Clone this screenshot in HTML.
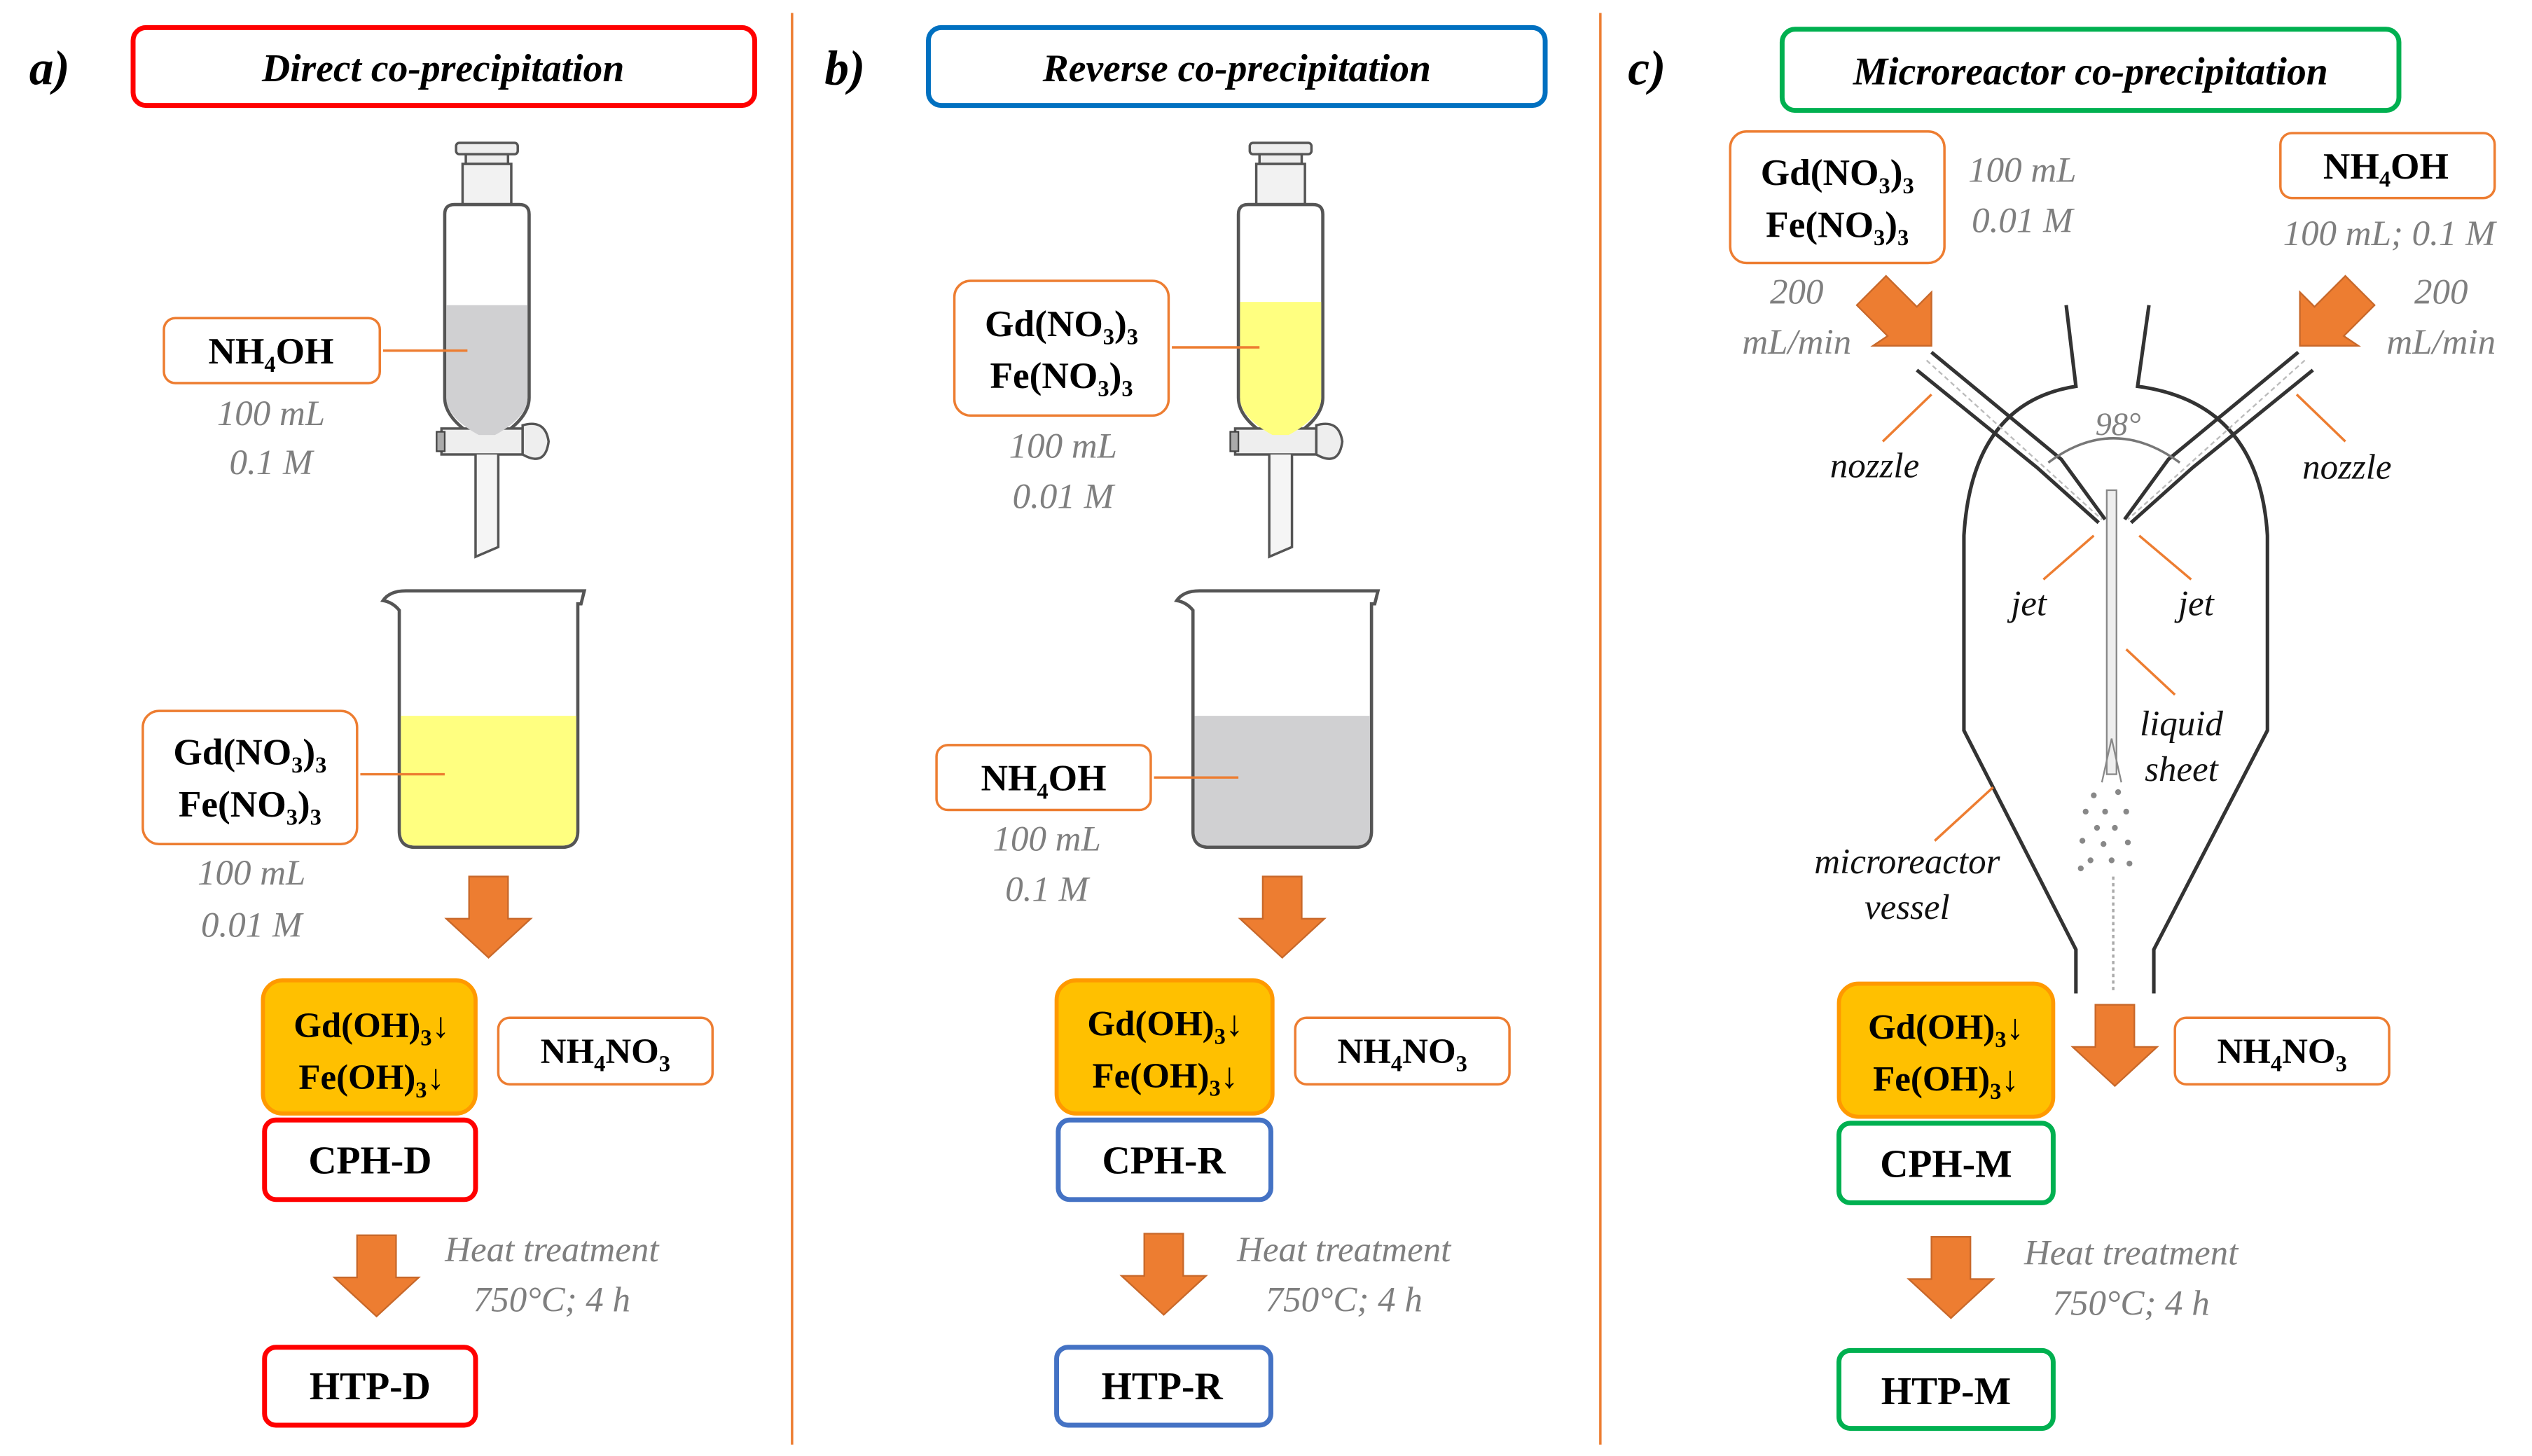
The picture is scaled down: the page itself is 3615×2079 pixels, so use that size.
<!DOCTYPE html>
<html><head><meta charset="utf-8"><style>
html,body{margin:0;padding:0;background:#fff;}
svg{display:block;}
svg text{font-family:"Liberation Serif","DejaVu Serif",serif;}
</style></head><body>
<svg width="3615" height="2079" viewBox="0 0 1560 897" preserveAspectRatio="none" xmlns="http://www.w3.org/2000/svg" font-family="Liberation Serif, DejaVu Serif, serif">
<style>
.b{font-family:"Liberation Serif","DejaVu Serif",serif;font-weight:bold;fill:#000;}
.t{font-family:"Liberation Serif","DejaVu Serif",serif;font-weight:bold;font-style:italic;fill:#000;}
.g{font-family:"Liberation Serif","DejaVu Serif",serif;font-style:italic;fill:#7f7f7f;}
.k{font-family:"Liberation Serif","DejaVu Serif",serif;font-style:italic;fill:#111;}
</style>
<defs>
<g id="funnel">
  <rect x="-19" y="88" width="38" height="7" rx="2" fill="#eee" stroke="#555" stroke-width="1.5"/>
  <rect x="-13" y="95" width="26" height="6" fill="#eee" stroke="#555" stroke-width="1.5"/>
  <rect x="-15" y="101" width="30" height="25" fill="#f2f2f2" stroke="#555" stroke-width="1.5"/>
  <path d="M-26 132 Q-26 126 -20 126 L20 126 Q26 126 26 132 L26 245 Q26 258 6 270 L6 276 L-6 276 L-6 270 Q-26 258 -26 245 Z" fill="#fff" stroke="#555" stroke-width="2"/>
  <rect x="-28" y="264" width="50" height="16" fill="#eee" stroke="#555" stroke-width="1.5"/>
  <rect x="-31" y="266" width="5" height="12" fill="#aaa" stroke="#444" stroke-width="1"/>
  <path d="M22 262 Q36 258 38 272 Q36 288 22 280 Z" fill="#eee" stroke="#555" stroke-width="1.5"/>
  <path d="M-7 280 L-7 343 L7 337 L7 280" fill="#f5f5f5" stroke="#555" stroke-width="1.5"/>
</g>
<g id="beaker">
  <path d="M-64 370 Q-60 364 -50 364 L60 364 L58 372 L56 372 L56 512 Q56 522 46 522 L-44 522 Q-54 522 -54 512 L-54 376 Q-58 371 -64 370 Z" fill="#fff" stroke="#555" stroke-width="2"/>
</g>
<g id="darrow"><path d="M-12 0 L12 0 L12 26 L26 26 L0 50 L-26 26 L-12 26 Z" fill="#ED7D31" stroke="#c8682a" stroke-width="1"/></g>
</defs>

<line x1="488" y1="8" x2="488" y2="890" stroke="#ED7D31" stroke-width="1.5"/>
<line x1="986" y1="8" x2="986" y2="890" stroke="#ED7D31" stroke-width="1.5"/>

<!-- Panel a -->
<text x="18" y="52" class="t" font-size="30">a)</text>
<rect x="82" y="17" width="383" height="48" rx="8" fill="#fff" stroke="#FF0000" stroke-width="3"/>
<text x="273" y="50" class="t" font-size="24" text-anchor="middle">Direct co-precipitation</text>

<g transform="translate(300,0)">
  <use href="#funnel"/>
  <path d="M-25 188 L25 188 L25 245 Q25 257 5 268 L-5 268 Q-25 257 -25 245 Z" fill="#d0d0d2"/>
</g>
<rect x="101" y="196" width="133" height="40" rx="7" fill="#fff" stroke="#ED7D31" stroke-width="1.5"/>
<text x="167" y="224" class="b" font-size="23" text-anchor="middle">NH<tspan font-size="14" dy="5">4</tspan><tspan dy="-5">OH</tspan></text>
<line x1="236" y1="216" x2="288" y2="216" stroke="#ED7D31" stroke-width="1.5"/>
<text x="167" y="262" class="g" font-size="22" text-anchor="middle">100 mL</text>
<text x="167" y="292" class="g" font-size="22" text-anchor="middle">0.1 M</text>

<g transform="translate(300,0)"><use href="#beaker"/>
<path d="M-53 441 L55 441 L55 512 Q55 521 46 521 L-44 521 Q-53 521 -53 512 Z" fill="#FFFF80"/></g>
<rect x="88" y="438" width="132" height="82" rx="10" fill="#fff" stroke="#ED7D31" stroke-width="1.5"/>
<text x="154" y="471" class="b" font-size="23" text-anchor="middle">Gd(NO<tspan font-size="14" dy="5">3</tspan><tspan dy="-5">)</tspan><tspan font-size="14" dy="5">3</tspan></text>
<text x="154" y="503" class="b" font-size="23" text-anchor="middle">Fe(NO<tspan font-size="14" dy="5">3</tspan><tspan dy="-5">)</tspan><tspan font-size="14" dy="5">3</tspan></text>
<line x1="222" y1="477" x2="274" y2="477" stroke="#ED7D31" stroke-width="1.5"/>
<text x="155" y="545" class="g" font-size="22" text-anchor="middle">100 mL</text>
<text x="155" y="577" class="g" font-size="22" text-anchor="middle">0.01 M</text>

<use href="#darrow" x="301" y="540"/>
<rect x="162" y="604" width="131" height="82" rx="12" fill="#FFC000" stroke="#FF9900" stroke-width="2.5"/>
<text x="229" y="639" class="b" font-size="22" text-anchor="middle">Gd(OH)<tspan font-size="14" dy="5">3</tspan><tspan dy="-5">↓</tspan></text>
<text x="229" y="671" class="b" font-size="22" text-anchor="middle">Fe(OH)<tspan font-size="14" dy="5">3</tspan><tspan dy="-5">↓</tspan></text>
<rect x="307" y="627" width="132" height="41" rx="7" fill="#fff" stroke="#ED7D31" stroke-width="1.5"/>
<text x="373" y="655" class="b" font-size="22" text-anchor="middle">NH<tspan font-size="14" dy="5">4</tspan><tspan dy="-5">NO</tspan><tspan font-size="14" dy="5">3</tspan></text>
<rect x="163" y="690" width="130" height="49" rx="7" fill="#fff" stroke="#FF0000" stroke-width="3"/>
<text x="228" y="723" class="b" font-size="24" text-anchor="middle">CPH-D</text>
<use href="#darrow" x="232" y="761"/>
<text x="340" y="777" class="g" font-size="22" text-anchor="middle">Heat treatment</text>
<text x="340" y="808" class="g" font-size="22" text-anchor="middle">750°C; 4 h</text>
<rect x="163" y="830" width="130" height="48" rx="7" fill="#fff" stroke="#FF0000" stroke-width="3"/>
<text x="228" y="862" class="b" font-size="24" text-anchor="middle">HTP-D</text>

<!-- Panel b -->
<text x="508" y="52" class="t" font-size="30">b)</text>
<rect x="572" y="17" width="380" height="48" rx="8" fill="#fff" stroke="#0070C0" stroke-width="3"/>
<text x="762" y="50" class="t" font-size="24" text-anchor="middle">Reverse co-precipitation</text>

<g transform="translate(789,0)">
  <use href="#funnel"/>
  <path d="M-25 186 L25 186 L25 245 Q25 257 5 268 L-5 268 Q-25 257 -25 245 Z" fill="#FFFF80"/>
</g>
<rect x="588" y="173" width="132" height="83" rx="10" fill="#fff" stroke="#ED7D31" stroke-width="1.5"/>
<text x="654" y="207" class="b" font-size="23" text-anchor="middle">Gd(NO<tspan font-size="14" dy="5">3</tspan><tspan dy="-5">)</tspan><tspan font-size="14" dy="5">3</tspan></text>
<text x="654" y="239" class="b" font-size="23" text-anchor="middle">Fe(NO<tspan font-size="14" dy="5">3</tspan><tspan dy="-5">)</tspan><tspan font-size="14" dy="5">3</tspan></text>
<line x1="722" y1="214" x2="776" y2="214" stroke="#ED7D31" stroke-width="1.5"/>
<text x="655" y="282" class="g" font-size="22" text-anchor="middle">100 mL</text>
<text x="655" y="313" class="g" font-size="22" text-anchor="middle">0.01 M</text>

<g transform="translate(789,0)"><use href="#beaker"/>
<path d="M-53 441 L55 441 L55 512 Q55 521 46 521 L-44 521 Q-53 521 -53 512 Z" fill="#d0d0d2"/></g>
<rect x="577" y="459" width="132" height="40" rx="7" fill="#fff" stroke="#ED7D31" stroke-width="1.5"/>
<text x="643" y="487" class="b" font-size="23" text-anchor="middle">NH<tspan font-size="14" dy="5">4</tspan><tspan dy="-5">OH</tspan></text>
<line x1="711" y1="479" x2="763" y2="479" stroke="#ED7D31" stroke-width="1.5"/>
<text x="645" y="524" class="g" font-size="22" text-anchor="middle">100 mL</text>
<text x="645" y="555" class="g" font-size="22" text-anchor="middle">0.1 M</text>

<use href="#darrow" x="790" y="540"/>
<rect x="651" y="604" width="133" height="82" rx="12" fill="#FFC000" stroke="#FF9900" stroke-width="2.5"/>
<text x="718" y="638" class="b" font-size="22" text-anchor="middle">Gd(OH)<tspan font-size="14" dy="5">3</tspan><tspan dy="-5">↓</tspan></text>
<text x="718" y="670" class="b" font-size="22" text-anchor="middle">Fe(OH)<tspan font-size="14" dy="5">3</tspan><tspan dy="-5">↓</tspan></text>
<rect x="798" y="627" width="132" height="41" rx="7" fill="#fff" stroke="#ED7D31" stroke-width="1.5"/>
<text x="864" y="655" class="b" font-size="22" text-anchor="middle">NH<tspan font-size="14" dy="5">4</tspan><tspan dy="-5">NO</tspan><tspan font-size="14" dy="5">3</tspan></text>
<rect x="652" y="690" width="131" height="49" rx="7" fill="#fff" stroke="#4472C4" stroke-width="3"/>
<text x="717" y="723" class="b" font-size="24" text-anchor="middle">CPH-R</text>
<use href="#darrow" x="717" y="760"/>
<text x="828" y="777" class="g" font-size="22" text-anchor="middle">Heat treatment</text>
<text x="828" y="808" class="g" font-size="22" text-anchor="middle">750°C; 4 h</text>
<rect x="651" y="830" width="132" height="48" rx="7" fill="#fff" stroke="#4472C4" stroke-width="3"/>
<text x="716" y="862" class="b" font-size="24" text-anchor="middle">HTP-R</text>

<!-- Panel c -->
<text x="1003" y="52" class="t" font-size="30">c)</text>
<rect x="1098" y="18" width="380" height="50" rx="8" fill="#fff" stroke="#00B050" stroke-width="3"/>
<text x="1288" y="52" class="t" font-size="24" text-anchor="middle">Microreactor co-precipitation</text>

<rect x="1066" y="81" width="132" height="81" rx="10" fill="#fff" stroke="#ED7D31" stroke-width="1.5"/>
<text x="1132" y="114" class="b" font-size="23" text-anchor="middle">Gd(NO<tspan font-size="14" dy="5">3</tspan><tspan dy="-5">)</tspan><tspan font-size="14" dy="5">3</tspan></text>
<text x="1132" y="146" class="b" font-size="23" text-anchor="middle">Fe(NO<tspan font-size="14" dy="5">3</tspan><tspan dy="-5">)</tspan><tspan font-size="14" dy="5">3</tspan></text>
<text x="1246" y="112" class="g" font-size="22" text-anchor="middle">100 mL</text>
<text x="1246" y="143" class="g" font-size="22" text-anchor="middle">0.01 M</text>
<rect x="1405" y="82" width="132" height="40" rx="7" fill="#fff" stroke="#ED7D31" stroke-width="1.5"/>
<text x="1470" y="110" class="b" font-size="23" text-anchor="middle">NH<tspan font-size="14" dy="5">4</tspan><tspan dy="-5">OH</tspan></text>
<text x="1472" y="151" class="g" font-size="22" text-anchor="middle">100 mL; 0.1 M</text>
<text x="1107" y="187" class="g" font-size="22" text-anchor="middle">200</text>
<text x="1107" y="218" class="g" font-size="22" text-anchor="middle">mL/min</text>
<text x="1504" y="187" class="g" font-size="22" text-anchor="middle">200</text>
<text x="1504" y="218" class="g" font-size="22" text-anchor="middle">mL/min</text>

<path d="M1190 213 L1190 180 L1181 189 L1162 170 L1144 188 L1163 207 L1154 213 Z" fill="#ED7D31" stroke="#c8682a" stroke-width="1"/>
<path d="M1417 213 L1417 180 L1426 189 L1445 170 L1463 188 L1444 207 L1453 213 Z" fill="#ED7D31" stroke="#c8682a" stroke-width="1"/>

<g fill="none" stroke="#333" stroke-width="2.2">
  <path d="M1273 188 L1279 238 Q1215 248 1210 330 L1210 450 L1279 585 L1279 612"/>
  <path d="M1324 188 L1317 238 Q1392 248 1397 330 L1397 450 L1327 585 L1327 612"/>
  <path d="M1190 217 L1270 283 L1297 320"/>
  <path d="M1181 228 L1255 288 L1293 322"/>
  <path d="M1416 217 L1336 283 L1309 320"/>
  <path d="M1425 228 L1351 288 L1313 322"/>
</g>
<line x1="1187" y1="222" x2="1295" y2="320" stroke="#bbb" stroke-width="1" stroke-dasharray="3,2"/>
<line x1="1420" y1="222" x2="1311" y2="320" stroke="#bbb" stroke-width="1" stroke-dasharray="3,2"/>
<path d="M1262 285 Q1302 255 1343 285" fill="none" stroke="#777" stroke-width="1.5"/>
<text x="1305" y="268" class="g" font-size="20" text-anchor="middle">98°</text>
<rect x="1298" y="302" width="6" height="175" fill="#eee" stroke="#888" stroke-width="1"/>
<path d="M1295 482 L1301 455 L1307 482" fill="none" stroke="#888" stroke-width="1"/>
<g fill="#888">
<circle cx="1290" cy="490" r="1.8"/><circle cx="1305" cy="488" r="1.8"/><circle cx="1285" cy="500" r="1.8"/><circle cx="1297" cy="500" r="1.8"/><circle cx="1310" cy="500" r="1.8"/>
<circle cx="1292" cy="510" r="1.8"/><circle cx="1303" cy="510" r="1.8"/><circle cx="1283" cy="518" r="1.8"/><circle cx="1296" cy="520" r="1.8"/><circle cx="1311" cy="519" r="1.8"/>
<circle cx="1288" cy="530" r="1.8"/><circle cx="1301" cy="530" r="1.8"/><circle cx="1312" cy="532" r="1.8"/><circle cx="1282" cy="535" r="1.8"/>
</g>
<line x1="1302" y1="540" x2="1302" y2="612" stroke="#aaa" stroke-width="1.5" stroke-dasharray="2,2"/>

<g stroke="#ED7D31" stroke-width="1.5">
<line x1="1190" y1="243" x2="1160" y2="272"/>
<line x1="1415" y1="243" x2="1445" y2="272"/>
<line x1="1290" y1="330" x2="1259" y2="357"/>
<line x1="1318" y1="330" x2="1350" y2="357"/>
<line x1="1310" y1="400" x2="1340" y2="428"/>
<line x1="1228" y1="485" x2="1192" y2="518"/>
</g>
<text x="1155" y="294" class="k" font-size="22" text-anchor="middle">nozzle</text>
<text x="1446" y="295" class="k" font-size="22" text-anchor="middle">nozzle</text>
<text x="1250" y="379" class="k" font-size="22" text-anchor="middle">jet</text>
<text x="1353" y="379" class="k" font-size="22" text-anchor="middle">jet</text>
<text x="1344" y="453" class="k" font-size="22" text-anchor="middle">liquid</text>
<text x="1344" y="481" class="k" font-size="22" text-anchor="middle">sheet</text>
<text x="1175" y="538" class="k" font-size="22" text-anchor="middle">microreactor</text>
<text x="1175" y="566" class="k" font-size="22" text-anchor="middle">vessel</text>

<use href="#darrow" x="1303" y="619"/>
<rect x="1133" y="606" width="132" height="82" rx="12" fill="#FFC000" stroke="#FF9900" stroke-width="2.5"/>
<text x="1199" y="640" class="b" font-size="22" text-anchor="middle">Gd(OH)<tspan font-size="14" dy="5">3</tspan><tspan dy="-5">↓</tspan></text>
<text x="1199" y="672" class="b" font-size="22" text-anchor="middle">Fe(OH)<tspan font-size="14" dy="5">3</tspan><tspan dy="-5">↓</tspan></text>
<rect x="1340" y="627" width="132" height="41" rx="7" fill="#fff" stroke="#ED7D31" stroke-width="1.5"/>
<text x="1406" y="655" class="b" font-size="22" text-anchor="middle">NH<tspan font-size="14" dy="5">4</tspan><tspan dy="-5">NO</tspan><tspan font-size="14" dy="5">3</tspan></text>
<rect x="1133" y="692" width="132" height="49" rx="7" fill="#fff" stroke="#00B050" stroke-width="3"/>
<text x="1199" y="725" class="b" font-size="24" text-anchor="middle">CPH-M</text>
<use href="#darrow" x="1202" y="762"/>
<text x="1313" y="779" class="g" font-size="22" text-anchor="middle">Heat treatment</text>
<text x="1313" y="810" class="g" font-size="22" text-anchor="middle">750°C; 4 h</text>
<rect x="1133" y="832" width="132" height="48" rx="7" fill="#fff" stroke="#00B050" stroke-width="3"/>
<text x="1199" y="865" class="b" font-size="24" text-anchor="middle">HTP-M</text>
</svg>
</body></html>
